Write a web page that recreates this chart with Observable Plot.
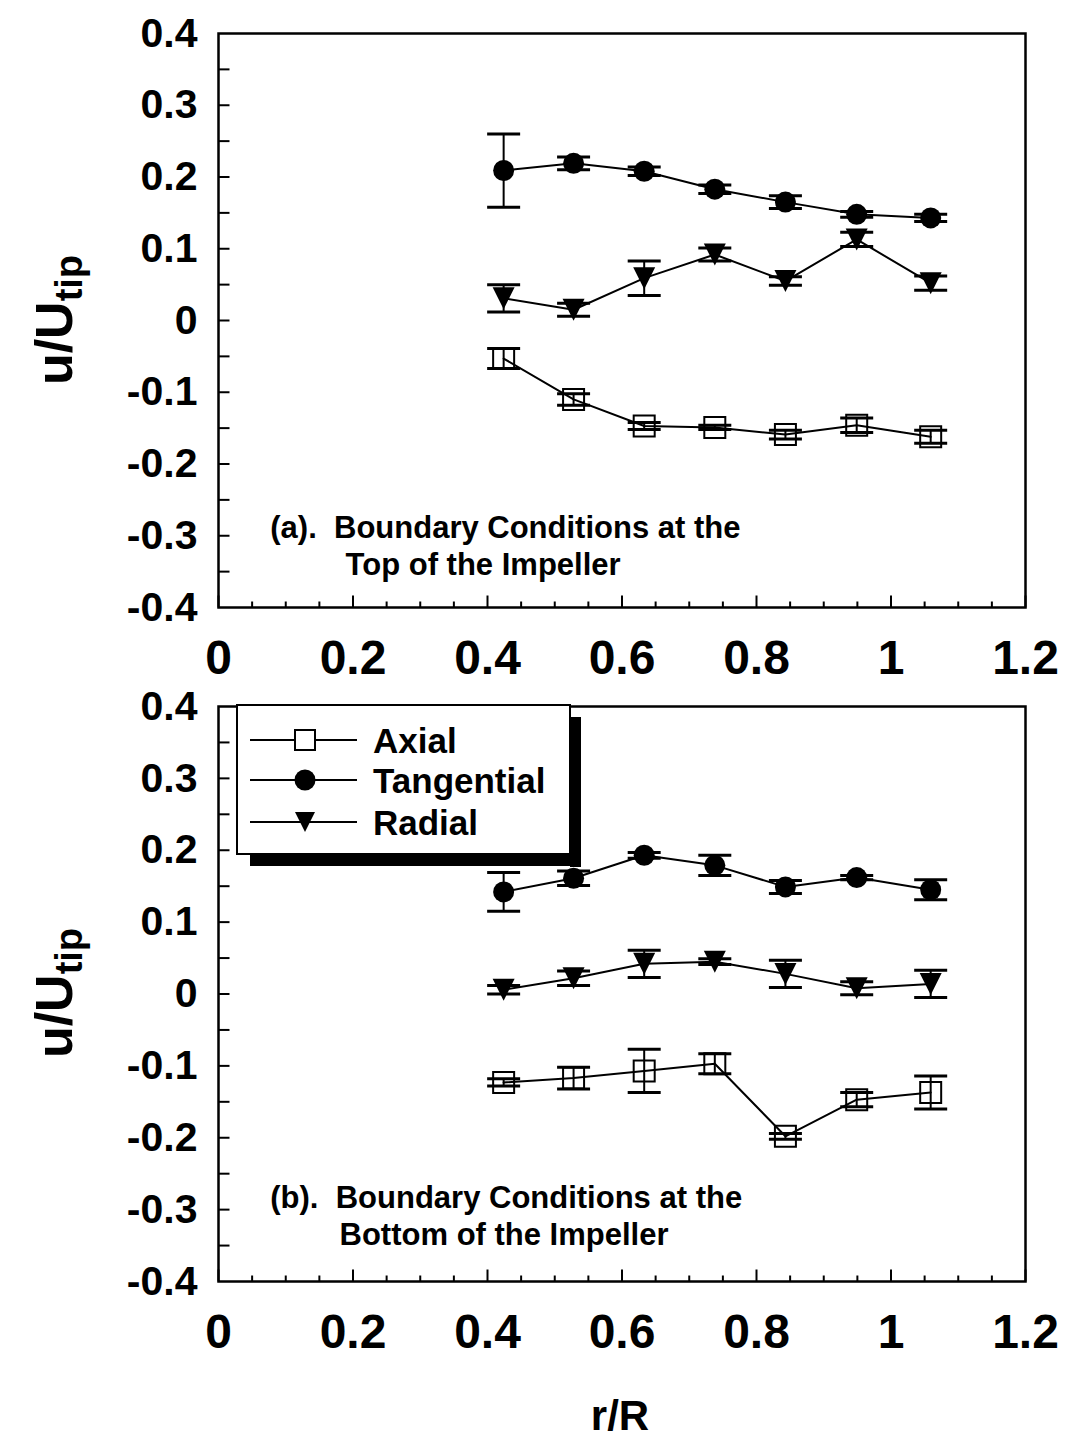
<!DOCTYPE html>
<html><head><meta charset="utf-8">
<script src="https://cdn.jsdelivr.net/npm/d3@7"></script>
<script src="https://cdn.jsdelivr.net/npm/@observablehq/plot@0.6"></script>
<style>
body{margin:0;background:#fff;}
#wrap{position:relative;width:1065px;height:1441px;overflow:hidden;background:#fff;}
#wrap svg{position:absolute;left:0;overflow:visible;}
</style></head><body><div id="wrap"></div>
<script>
// ---------- data ----------
const rR = [0.424, 0.528, 0.633, 0.738, 0.843, 0.949, 1.059];
const seriesNames = ["Axial", "Tangential", "Radial"];

const topAxial = [-0.053, -0.110, -0.147, -0.149, -0.159, -0.146, -0.162];
const topAxialErr = [0.014, 0.008, 0.005, 0.003, 0.006, 0.010, 0.009];
const topTangential = [0.209, 0.219, 0.208, 0.183, 0.165, 0.148, 0.143];
const topTangentialErr = [0.051, 0.009, 0.006, 0.006, 0.009, 0.004, 0.005];
const topRadial = [0.031, 0.015, 0.059, 0.092, 0.055, 0.113, 0.052];
const topRadialErr = [0.019, 0.009, 0.024, 0.009, 0.006, 0.010, 0.010];

const botAxial = [-0.123, -0.117, -0.107, -0.097, -0.198, -0.147, -0.137];
const botAxialErr = [0.005, 0.015, 0.030, 0.014, 0.004, 0.010, 0.023];
const botTangential = [0.142, 0.161, 0.193, 0.179, 0.149, 0.162, 0.145];
const botTangentialErr = [0.027, 0.010, 0.004, 0.014, 0.009, 0.003, 0.014];
const botRadial = [0.006, 0.022, 0.042, 0.045, 0.028, 0.008, 0.014];
const botRadialErr = [0.006, 0.010, 0.019, 0.004, 0.019, 0.009, 0.019];

const xMajorTicks = [0, 0.2, 0.4, 0.6, 0.8, 1.0, 1.2];
const xMinorTicks = [0.05,0.1,0.15,0.25,0.3,0.35,0.45,0.5,0.55,0.65,0.7,0.75,0.85,0.9,0.95,1.05,1.1,1.15];
const yTicks = [-0.35,-0.3,-0.25,-0.2,-0.15,-0.1,-0.05,0,0.05,0.1,0.15,0.2,0.25,0.3,0.35];
const yLabels = [-0.4,-0.3,-0.2,-0.1,0,0.1,0.2,0.3,0.4];

const topNote = ["(a).\u00A0 Boundary Conditions at the", "Top of the Impeller"];
const botNote = ["(b).\u00A0 Boundary Conditions at the", "Bottom of the Impeller"];

// ---------- helpers ----------
const FONT = '"Liberation Sans", Arial, Helvetica, sans-serif';
const fmt = d => String(Math.round(d * 10) / 10);
const rad = size => Math.sqrt(size / Math.PI);
const downTriangle = {draw(c, s){ const r = rad(s); c.moveTo(-r, -r); c.lineTo(r, -r); c.lineTo(0, r); c.closePath(); }};
const squareSym = {draw(c, s){ const r = rad(s); c.rect(-r, -r, 2*r, 2*r); }};
const capSym = {draw(c, s){ const r = rad(s); c.moveTo(-r, 0); c.lineTo(r, 0); }};
const upTick = {draw(c, s){ const r = rad(s); c.moveTo(0, 0); c.lineTo(0, -r); }};
const rightTick = {draw(c, s){ const r = rad(s); c.moveTo(0, 0); c.lineTo(r, 0); }};
const circleSym = {draw(c, s){ const r = rad(s); c.moveTo(r, 0); c.arc(0, 0, r, 0, 2*Math.PI); }};

function makeRows(vals) {
  const rows = [];
  vals.forEach(([name, v, e]) => v.forEach((y, i) => rows.push({series: name, x: rR[i], y, lo: y - e[i], hi: y + e[i]})));
  return rows;
}

function panel(vals, note, notePos, {height, mt, mb}) {
  const rows = makeRows(vals);
  const yMin = -0.4;
  return Plot.plot({
    width: 1065, height,
    marginLeft: 218, marginRight: 40, marginTop: mt, marginBottom: mb,
    x: {domain: [0, 1.2], axis: null},
    y: {domain: [-0.4, 0.4], axis: null},
    style: {fontFamily: FONT, background: "transparent", overflow: "visible", color: "black"},
    marks: [
      Plot.frame({stroke: "black", strokeWidth: 2.5}),
      Plot.dot(xMajorTicks, {x: d => d, y: () => yMin, symbol: upTick, r: 12, stroke: "black", strokeWidth: 2}),
      Plot.dot(xMinorTicks, {x: d => d, y: () => yMin, symbol: upTick, r: 6, stroke: "black", strokeWidth: 2}),
      Plot.dot(yTicks, {x: () => 0, y: d => d, symbol: rightTick, r: 11, stroke: "black", strokeWidth: 2}),
      Plot.text(xMajorTicks, {x: d => d, y: () => yMin, text: fmt, lineAnchor: "top", dy: 32, fontSize: 48, fontWeight: "bold"}),
      Plot.text(yLabels, {x: () => 0, y: d => d, text: fmt, textAnchor: "end", dx: -21, fontSize: 41, fontWeight: "bold"}),
      Plot.line(rows, {x: "x", y: "y", z: "series", stroke: "black", strokeWidth: 2}),
      Plot.ruleX(rows, {x: "x", y1: "lo", y2: "hi", stroke: "black", strokeWidth: 2}),
      Plot.dot(rows, {x: "x", y: "lo", symbol: capSym, r: 16.5, stroke: "black", strokeWidth: 3}),
      Plot.dot(rows, {x: "x", y: "hi", symbol: capSym, r: 16.5, stroke: "black", strokeWidth: 3}),
      Plot.dot(rows.filter(d => d.series === "Axial"), {x: "x", y: "y", symbol: squareSym, r: 10.5, fill: "none", stroke: "black", strokeWidth: 2}),
      Plot.dot(rows.filter(d => d.series === "Tangential"), {x: "x", y: "y", symbol: circleSym, r: 10.5, fill: "black", stroke: "none"}),
      Plot.dot(rows.filter(d => d.series === "Radial"), {x: "x", y: "y", symbol: downTriangle, r: 11, fill: "black", stroke: "none"}),
      Plot.text([note[0]], {x: () => notePos[0][0], y: () => notePos[0][1], text: d => d, textAnchor: "start", fontSize: 31, fontWeight: "bold"}),
      Plot.text([note[1]], {x: () => notePos[1][0], y: () => notePos[1][1], text: d => d, textAnchor: "start", fontSize: 31, fontWeight: "bold"})
    ]
  });
}

function addYLabel(svg, cx, cy) {
  const t = d3.select(svg).append("text")
    .attr("transform", `translate(${cx},${cy}) rotate(-90)`)
    .attr("text-anchor", "middle")
    .attr("font-family", FONT).attr("font-weight", "bold").attr("font-size", 52).attr("fill", "black");
  t.append("tspan").text("u/U");
  t.append("tspan").attr("font-size", 38).attr("dy", 10).text("tip");
}

const wrap = document.getElementById("wrap");

// ---------- top panel ----------
const topSvg = panel(
  [["Axial", topAxial, topAxialErr], ["Tangential", topTangential, topTangentialErr], ["Radial", topRadial, topRadialErr]],
  topNote, [[0.077, -0.290], [0.189, -0.3415]],
  {height: 700, mt: 33, mb: 93}
);
topSvg.style.top = "0px";
wrap.appendChild(topSvg);
addYLabel(topSvg, 72, 320);

// ---------- bottom panel ----------
const botTop = 673;
const botSvg = panel(
  [["Axial", botAxial, botAxialErr], ["Tangential", botTangential, botTangentialErr], ["Radial", botRadial, botRadialErr]],
  botNote, [[0.077, -0.2845], [0.180, -0.336]],
  {height: 768, mt: 33, mb: 160}
);
botSvg.style.top = botTop + "px";
wrap.appendChild(botSvg);
addYLabel(botSvg, 72, 320);

// x title
d3.select(botSvg).append("text")
  .attr("x", 620).attr("y", 1430 - botTop)
  .attr("text-anchor", "middle")
  .attr("font-family", FONT).attr("font-weight", "bold").attr("font-size", 42).attr("fill", "black")
  .text("r/R");

// legend (bottom panel)
const lg = d3.select(botSvg).append("g").attr("transform", `translate(0,${-botTop})`);
lg.append("rect").attr("x", 570).attr("y", 717).attr("width", 11).attr("height", 150).attr("fill", "black");
lg.append("rect").attr("x", 250).attr("y", 854).attr("width", 331).attr("height", 12).attr("fill", "black");
lg.append("rect").attr("x", 237).attr("y", 705).attr("width", 333).attr("height", 149)
  .attr("fill", "white").attr("stroke", "black").attr("stroke-width", 2);
const legendSyms = [
  {name: seriesNames[0], sym: squareSym, r: 10, fill: "none", stroke: "black"},
  {name: seriesNames[1], sym: circleSym, r: 10.5, fill: "black", stroke: "none"},
  {name: seriesNames[2], sym: downTriangle, r: 10, fill: "black", stroke: "none"}
];
const rowY = [740, 780, 822];
legendSyms.forEach((s, i) => {
  const y = rowY[i];
  lg.append("line").attr("x1", 250).attr("x2", 357).attr("y1", y).attr("y2", y).attr("stroke", "black").attr("stroke-width", 2);
  lg.append("path").attr("transform", `translate(305,${y})`)
    .attr("d", d3.symbol(s.sym, s.r * s.r * Math.PI)())
    .attr("fill", s.fill === "none" ? "white" : s.fill).attr("stroke", s.stroke).attr("stroke-width", 2);
  lg.append("text").attr("x", 373).attr("y", y).attr("dy", "0.36em")
    .attr("text-anchor", "start")
    .attr("font-family", FONT).attr("font-weight", "bold").attr("font-size", 35).attr("fill", "black")
    .text(s.name);
});
</script></body></html>
